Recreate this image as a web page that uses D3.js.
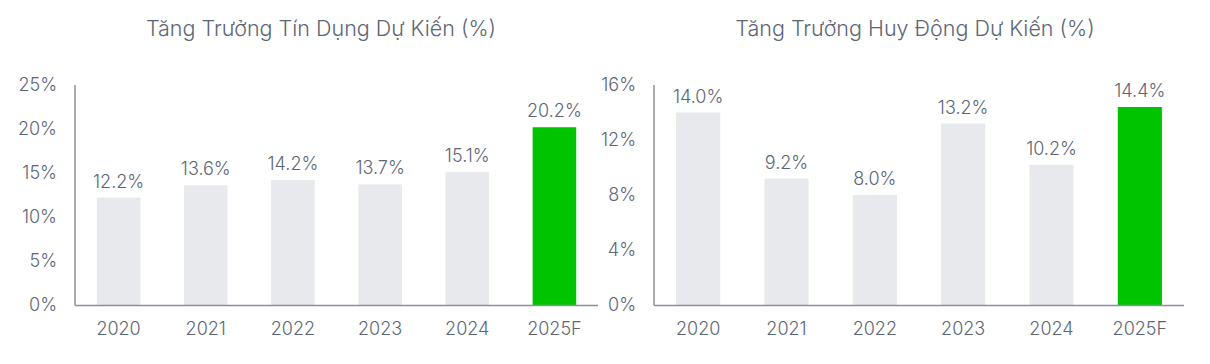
<!DOCTYPE html>
<html>
<head>
<meta charset="utf-8">
<script src="https://cdn.jsdelivr.net/npm/d3@7"></script>
<style>
  body { margin: 0; background: #fff; }
  text { font-family: Inter, "Noto Sans", sans-serif; font-weight: 300; fill: #5d6677; }
</style>
</head>
<body>
<div id="vis"></div>
<script>
// data
var years = ["2020", "2021", "2022", "2023", "2024", "2025F"];
var creditGrowth = [12.2, 13.6, 14.2, 13.7, 15.1, 20.2];
var depositGrowth = [14.0, 9.2, 8.0, 13.2, 10.2, 14.4];
var creditTicks = [0, 5, 10, 15, 20, 25];
var depositTicks = [0, 4, 8, 12, 16];
var titles = ["Tăng Trưởng Tín Dụng Dự Kiến (%)", "Tăng Trưởng Huy Động Dự Kiến (%)"];

var width = 1210, height = 364;
var svg = d3.select("#vis").append("svg")
    .attr("width", width)
    .attr("height", height);

/* draws one bar panel
 * x0,x1: left/right of the plot area
 */
function panel(values, ticks, title, x0, x1, titleX, labelRight){
    var g = svg.append("g");
    var x = d3.scaleBand().domain(years).range([x0, x1])
        .paddingInner(0.5).paddingOuter(0.25);
    var y = d3.scaleLinear().domain([0, ticks[ticks.length-1]]).range([305, 85]);

    g.append("text")
        .attr("x", titleX)
        .attr("y", 36)
        .attr("text-anchor", "middle")
        .style("font-size", "21.5px")
        .text(title);

    g.selectAll(".ytick").data(ticks).enter().append("text")
        .attr("class", "ytick")
        .attr("x", labelRight)
        .attr("y", function(d){ return y(d); })
        .attr("dy", "0.35em")
        .attr("text-anchor", "end")
        .style("font-size", "18px")
        .text(function(d){ return d + "%"; });

    g.selectAll(".bar").data(values).enter().append("rect")
        .attr("class", "bar")
        .attr("x", function(d, i){ return x(years[i]); })
        .attr("width", x.bandwidth())
        .attr("y", function(d){ return y(d); })
        .attr("height", function(d){ return y(0) - y(d); })
        .attr("fill", function(d, i){ return i == years.length-1 ? "#00c400" : "#e8e9ed"; });

    g.selectAll(".val").data(values).enter().append("text")
        .attr("class", "val")
        .attr("x", function(d, i){ return x(years[i]) + x.bandwidth()/2; })
        .attr("y", function(d){ return y(d) - 10; })
        .attr("text-anchor", "middle")
        .style("font-size", "18px")
        .text(function(d){ return d.toFixed(1) + "%"; });

    g.selectAll(".xlab").data(years).enter().append("text")
        .attr("class", "xlab")
        .attr("x", function(d){ return x(d) + x.bandwidth()/2; })
        .attr("y", 329)
        .attr("dy", "0.35em")
        .attr("text-anchor", "middle")
        .style("font-size", "18px")
        .text(function(d){ return d; });

    // axis lines
    g.append("line")
        .attr("x1", x0).attr("x2", x0)
        .attr("y1", 85).attr("y2", 305.5)
        .attr("stroke", "#8b909c").attr("stroke-width", 1.5);
    g.append("line")
        .attr("x1", x0).attr("x2", x1)
        .attr("y1", 305.5).attr("y2", 305.5)
        .attr("stroke", "#8b909c").attr("stroke-width", 1.5);
}

panel(creditGrowth, creditTicks, titles[0], 75, 598, 321, 57);
panel(depositGrowth, depositTicks, titles[1], 654, 1184, 915, 636);
</script>
</body>
</html>
